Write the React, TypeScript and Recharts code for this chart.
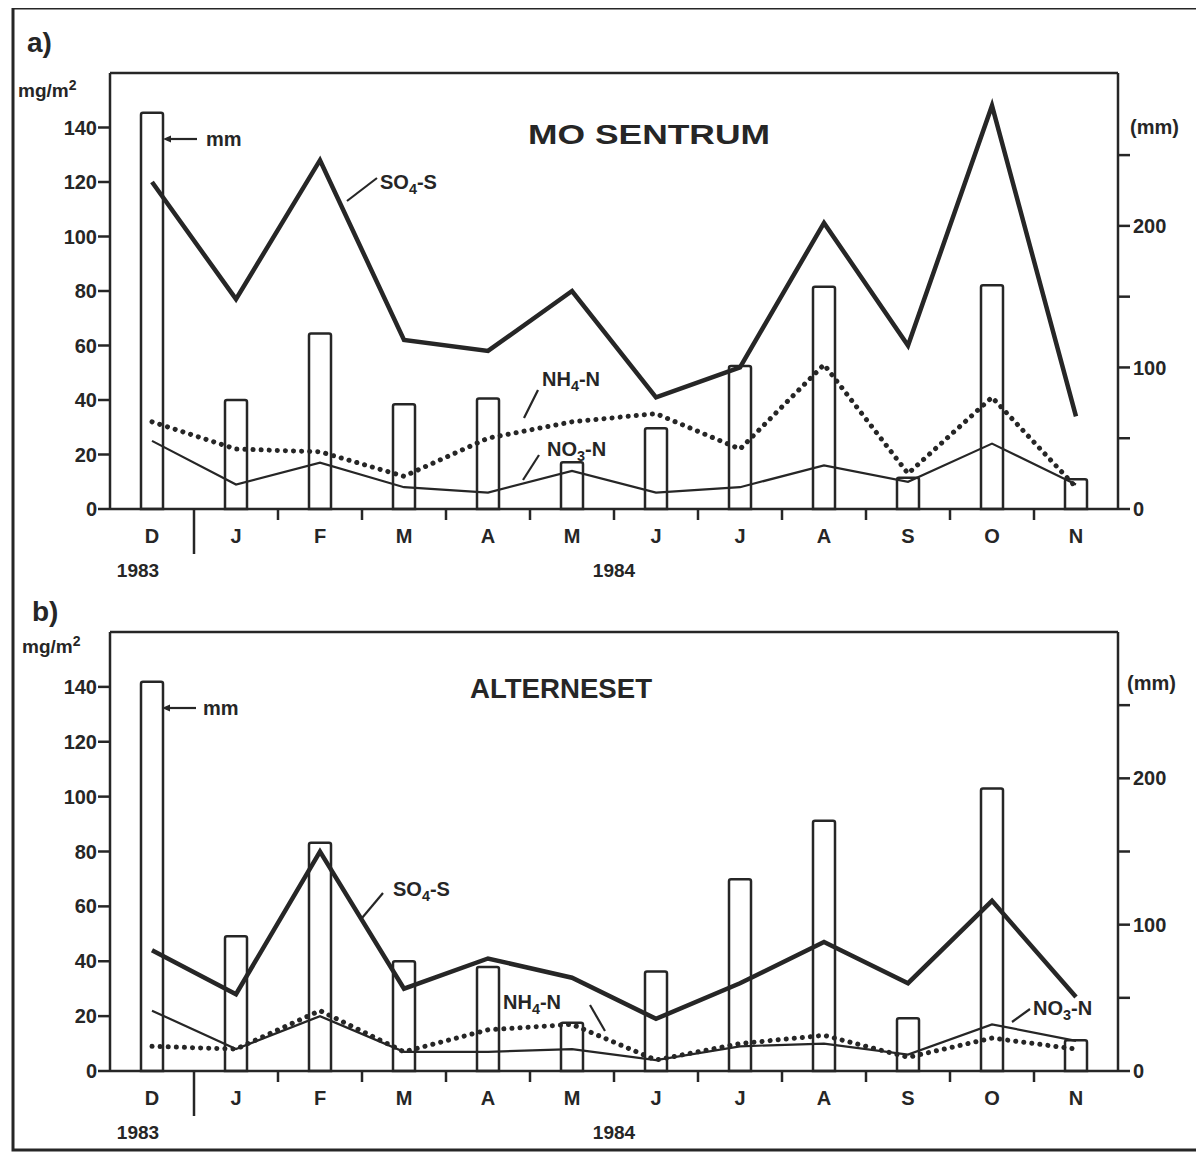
import React from "react";
import { ComposedChart, Bar, Line, XAxis, YAxis, ReferenceLine } from "recharts";

const months = ["D", "J", "F", "M", "A", "M", "J", "J", "A", "S", "O", "N"];
const yearLabels: Record<number, string> = { 0: "1983", 5: "1984" };

// a) Mo sentrum
const moPrecip = [280, 77, 124, 74, 78, 33, 57, 101, 157, 22, 158, 21];
const moSO4 = [120, 77, 128, 62, 58, 80, 41, 52, 105, 60, 148, 34];
const moNH4 = [32, 22, 21, 12, 26, 32, 35, 22, 53, 13, 41, 8];
const moNO3 = [25, 9, 17, 8, 6, 14, 6, 8, 16, 10, 24, 9];

// b) Alterneset
const altPrecip = [266, 92, 156, 75, 71, 33, 68, 131, 171, 36, 193, 21];
const altSO4 = [44, 28, 80, 30, 41, 34, 19, 32, 47, 32, 62, 27];
const altNH4 = [9, 8, 22, 7, 15, 17, 4, 10, 13, 5, 12, 8];
const altNO3 = [22, 8, 20, 7, 7, 8, 4, 9, 10, 6, 17, 11];

const mgTicks = [0, 20, 40, 60, 80, 100, 120, 140];
const mmTicks = [0, 50, 100, 150, 200, 250];

const INK = "#262626";
const FONT = "'Liberation Sans', Arial, sans-serif";
const W = 1196;
const H = 585;
const AXIS_H = 84;
const LEFT_W = 102;
const RIGHT_W = 86;
const BAND = (W - LEFT_W - RIGHT_W) / months.length;

const build = (mm: number[], so4: number[], nh4: number[], no3: number[]) =>
  months.map((m, i) => ({ m, mm: mm[i], so4: so4[i], nh4: nh4[i], no3: no3[i] }));

const dataA = build(moPrecip, moSO4, moNH4, moNO3);
const dataB = build(altPrecip, altSO4, altNH4, altNO3);

function MonthTick(props: any) {
  const { x, y, payload, index } = props;
  const last = index === months.length - 1;
  const divider = index === 0;
  const year = yearLabels[index];
  return (
    <g>
      {!last && (
        <line
          x1={x + BAND / 2}
          x2={x + BAND / 2}
          y1={y}
          y2={y + (divider ? 45 : 11)}
          stroke={INK}
          strokeWidth={2.5}
        />
      )}
      <text x={x} y={y + 34} textAnchor="middle" fill={INK} fontSize={20} fontWeight={700} fontFamily={FONT}>
        {payload.value}
      </text>
      {year && (
        <text
          x={divider ? x - 14 : x + BAND / 2}
          y={y + 68}
          textAnchor="middle"
          fill={INK}
          fontSize={19}
          fontWeight={700}
          fontFamily={FONT}
        >
          {year}
        </text>
      )}
    </g>
  );
}

const tickStyle = { fill: INK, fontSize: 20, fontWeight: 700, fontFamily: FONT };

function Panel({ data, mmMax, top }: { data: any[]; mmMax: number; top: number }) {
  return (
    <ComposedChart width={W} height={H} data={data} margin={{ top, right: 0, bottom: 0, left: 0 }}>
      <XAxis
        dataKey="m"
        interval={0}
        height={AXIS_H}
        tickSize={0}
        tickMargin={0}
        tickLine={false}
        tick={<MonthTick />}
        axisLine={{ stroke: INK, strokeWidth: 2.5 }}
      />
      <YAxis
        yAxisId="mg"
        domain={[0, 160]}
        ticks={mgTicks}
        width={LEFT_W}
        tickSize={12}
        tickMargin={1}
        tick={tickStyle}
        tickLine={{ stroke: INK, strokeWidth: 2.5 }}
        axisLine={{ stroke: INK, strokeWidth: 2.5 }}
      />
      <YAxis
        yAxisId="mm"
        orientation="right"
        domain={[0, mmMax]}
        ticks={mmTicks}
        width={RIGHT_W}
        tickSize={12}
        tickMargin={3}
        tick={tickStyle}
        tickFormatter={(v: number) => (v % 100 === 0 ? String(v) : "")}
        tickLine={{ stroke: INK, strokeWidth: 2.5 }}
        axisLine={{ stroke: INK, strokeWidth: 2.5 }}
      />
      <ReferenceLine yAxisId="mg" y={160} stroke={INK} strokeWidth={2.5} />
      <Bar
        yAxisId="mm"
        dataKey="mm"
        barSize={22}
        fill="#fff"
        stroke={INK}
        strokeWidth={2.5}
        radius={[2, 2, 0, 0]}
        isAnimationActive={false}
      />
      <Line yAxisId="mg" dataKey="no3" type="linear" stroke={INK} strokeWidth={2.2} dot={false} isAnimationActive={false} />
      <Line
        yAxisId="mg"
        dataKey="nh4"
        type="linear"
        stroke={INK}
        strokeWidth={5}
        strokeDasharray="0.1 8"
        strokeLinecap="round"
        dot={false}
        isAnimationActive={false}
      />
      <Line yAxisId="mg" dataKey="so4" type="linear" stroke={INK} strokeWidth={4.5} dot={false} isAnimationActive={false} />
    </ComposedChart>
  );
}

const txt = { fill: INK, fontWeight: 700, fontFamily: FONT } as const;

function Chem({ x, y, head, sub, tail, size = 20 }: { x: number; y: number; head: string; sub: string; tail: string; size?: number }) {
  return (
    <text x={x} y={y} fontSize={size} {...txt}>
      {head}
      <tspan dy={5} fontSize={size * 0.72}>{sub}</tspan>
      <tspan dy={-5}>{tail}</tspan>
    </text>
  );
}

function Leader({ x1, y1, x2, y2 }: { x1: number; y1: number; x2: number; y2: number }) {
  return <line x1={x1} y1={y1} x2={x2} y2={y2} stroke={INK} strokeWidth={2.2} />;
}

function Arrow({ x, y, len }: { x: number; y: number; len: number }) {
  return (
    <g>
      <line x1={x + 4} y1={y} x2={x + len} y2={y} stroke={INK} strokeWidth={2.2} />
      <path d={`M${x},${y} L${x + 8},${y - 3.5} L${x + 8},${y + 3.5} Z`} fill={INK} />
    </g>
  );
}

function Overlay() {
  return (
    <svg
      width={W}
      height={1147}
      viewBox={`8 8 ${W} 1147`}
      style={{ position: "absolute", left: 0, top: 0, pointerEvents: "none" }}
    >
      <rect x={13} y={8} width={1188} height={1142} fill="none" stroke={INK} strokeWidth={3} />

      {/* panel a */}
      <text x={27} y={52} fontSize={28} {...txt}>a)</text>
      <text x={18} y={97} fontSize={19} {...txt}>
        mg/m<tspan dy={-7} fontSize={14}>2</tspan>
      </text>
      <text x={528} y={144} fontSize={28} textLength={242} lengthAdjust="spacingAndGlyphs" {...txt}>MO SENTRUM</text>
      <text x={1130} y={134} fontSize={20} {...txt}>(mm)</text>
      <Arrow x={163} y={139} len={34} />
      <text x={206} y={146} fontSize={20} {...txt}>mm</text>
      <Chem x={380} y={189} head="SO" sub="4" tail="-S" />
      <Leader x1={377} y1={178} x2={347} y2={201} />
      <Chem x={542} y={386} head="NH" sub="4" tail="-N" />
      <Leader x1={538} y1={390} x2={524} y2={418} />
      <Chem x={547} y={456} head="NO" sub="3" tail="-N" />
      <Leader x1={539} y1={455} x2={523} y2={480} />

      {/* panel b */}
      <text x={32} y={621} fontSize={28} {...txt}>b)</text>
      <text x={22} y={653} fontSize={19} {...txt}>
        mg/m<tspan dy={-7} fontSize={14}>2</tspan>
      </text>
      <text x={470} y={698} fontSize={28} textLength={182} lengthAdjust="spacingAndGlyphs" {...txt}>ALTERNESET</text>
      <text x={1127} y={690} fontSize={20} {...txt}>(mm)</text>
      <Arrow x={162} y={708} len={34} />
      <text x={203} y={715} fontSize={20} {...txt}>mm</text>
      <Chem x={393} y={896} head="SO" sub="4" tail="-S" />
      <Leader x1={383} y1={893} x2={362} y2={918} />
      <Chem x={503} y={1009} head="NH" sub="4" tail="-N" />
      <Leader x1={590} y1={1005} x2={605} y2={1031} />
      <Chem x={1033} y={1015} head="NO" sub="3" tail="-N" />
      <Leader x1={1030} y1={1009} x2={1012} y2={1022} />
    </svg>
  );
}

export default function App() {
  return (
    <div style={{ position: "relative", width: W, height: 1147, background: "#fff" }}>
      <div style={{ position: "absolute", left: 0, top: 0 }}>
        <Panel data={dataA} mmMax={308} top={65} />
      </div>
      <div style={{ position: "absolute", left: 0, top: 562 }}>
        <Panel data={dataB} mmMax={300} top={62} />
      </div>
      <Overlay />
    </div>
  );
}
